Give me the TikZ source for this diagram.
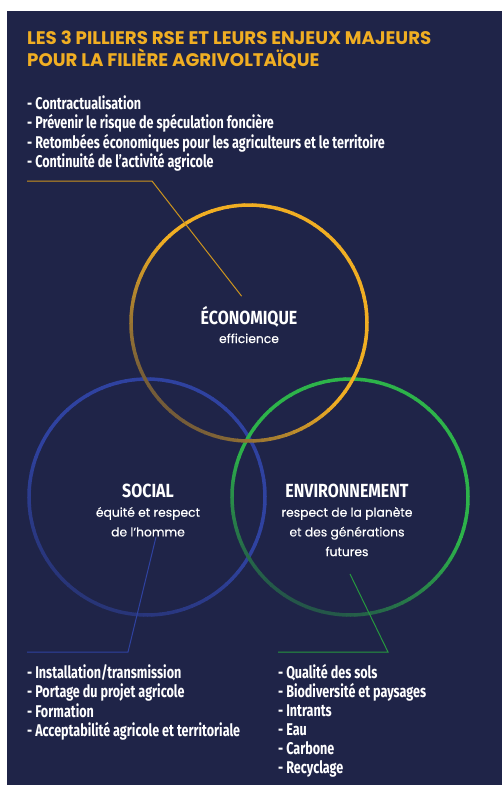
\documentclass[tikz,border=0pt]{standalone}
\usepackage{fontspec}
\setmainfont{Poppins}
\newfontfamily\condfont[FakeStretch=0.74]{Fira Sans}
\newfontfamily\headfont[FakeStretch=0.84]{Fira Sans}
\newfontfamily\subfont[FakeBold=0.4]{Poppins}
\usepackage{tikz}
\usetikzlibrary{
  calc,
  positioning
}
\definecolor{rseNavy}{RGB}{31, 36, 72}
\definecolor{rseGold}{RGB}{240, 174, 35}
\definecolor{rseGreen}{RGB}{45, 179, 74}
\definecolor{rseBlue}{RGB}{47, 66, 160}
\tikzset{
  % Textes
  titletext/.style={
    anchor=base west,
    inner sep=0pt,
    text=rseGold,
    font=\fontsize{18.2}{22}\selectfont\bfseries
  },
  itemtext/.style={
    anchor=base west,
    inner sep=0pt,
    text=white,
    font=\condfont\bfseries\fontsize{17}{19}\selectfont
  },
  pillarhead/.style={
    anchor=base,
    inner sep=0pt,
    text=white,
    font=\headfont\bfseries\fontsize{19}{20}\selectfont
  },
  pillarsub/.style={
    anchor=base,
    inner sep=0pt,
    text=white,
    font=\subfont\fontsize{12.3}{19}\selectfont
  },
  % Cercles des piliers
  pillar/.style={circle, minimum size=236pt, inner sep=0pt},
  % Traits de rappel
  ecoline/.style={draw=rseGold!85!black, line width=1pt},
  socline/.style={draw=rseBlue, line width=1pt},
  envline/.style={draw=rseGreen!85!black, line width=1pt},
}

\begin{document}
\begin{tikzpicture}[x=1pt, y=-1pt]
  \useasboundingbox (0,0) rectangle (502,785);
  \fill[white] (0,0) rectangle (502,785);
  \fill[rseNavy] (7,11) rectangle (502,785);

  % Titre
  \node[titletext] (title-1) at (27,44) {LES 3 PILLIERS RSE ET LEURS ENJEUX MAJEURS};
  \node[titletext] (title-2) at (27,66) {POUR LA FILIÈRE AGRIVOLTAÏQUE};

  % Les trois cercles
  \node[pillar] (eco) at (249,323) {};
  \node[pillar] (soc) at (147,497) {};
  \node[pillar] (env) at (350,497) {};

  \foreach \pil/\col/\lo/\dim in {soc/rseBlue/55/240, env/rseGreen/35/245, eco/rseGold/40/225}{
    \foreach \v in {0,4,...,356}{
      \pgfmathtruncatemacro\p{100-(100-\lo)*max(0,cos(\v-\dim))}
      \draw[line width=3.5pt, draw=\col!\p!rseNavy]
        ($(\pil.center)+(-\v:118)$) arc[start angle=-\v, delta angle=-4.6, radius=118];
    }
  }

  % Libellés des piliers
  \node[pillarhead] (ecohead) at (249,324) {ÉCONOMIQUE};
  \node[pillarsub] (ecosub-1) at (249,343) {efficience};

  \node[pillarhead] (sochead) at (148,497) {SOCIAL};
  \foreach \txt [count=\i] in {équité et respect, de l’homme}
    \node[pillarsub] (socsub-\i) at (148,{497+19.7*\i}) {\txt};

  \node[pillarhead] (envhead) at (347,497) {ENVIRONNEMENT};
  \foreach \txt [count=\i] in {respect de la planète, et des générations, futures}
    \node[pillarsub] (envsub-\i) at (347,{497+19.7*\i}) {\txt};

  % Enjeux
  \foreach \txt [count=\i] in {Contractualisation, Prévenir le risque de spéculation foncière, Retombées économiques pour les agriculteurs et le territoire, Continuité de l’activité agricole}
    \node[itemtext] (ecoitem-\i) at (27,{109.5+19.3*(\i-1)}) {- \txt};

  \foreach \txt [count=\i] in {Installation/transmission, Portage du projet agricole, Formation, Acceptabilité agricole et territoriale}
    \node[itemtext] (socitem-\i) at (27,{678+19.5*(\i-1)}) {- \txt};

  \foreach \txt [count=\i] in {Qualité des sols, Biodiversité et paysages, Intrants, Eau, Carbone, Recyclage}
    \node[itemtext] (envitem-\i) at (278,{678+19.1*(\i-1)}) {- \txt};

  % Traits de rappel
  \coordinate (ecotick) at (27,181);
  \coordinate (ecoknee) at (152,181);
  \draw[ecoline, shorten >=12pt] (ecotick) -- (ecoknee) -- (ecohead.north);

  \coordinate (socstart) at (156,537);
  \coordinate (socknee) at (128,652);
  \coordinate (soctick) at (27,652);
  \draw[socline] (socstart) -- (socknee) -- (soctick);

  \coordinate (envstart) at (350,574);
  \coordinate (envknee) at (388,652);
  \coordinate (envtick) at (278,652);
  \draw[envline] (envstart) -- (envknee) -- (envtick);
\end{tikzpicture}
\end{document}
